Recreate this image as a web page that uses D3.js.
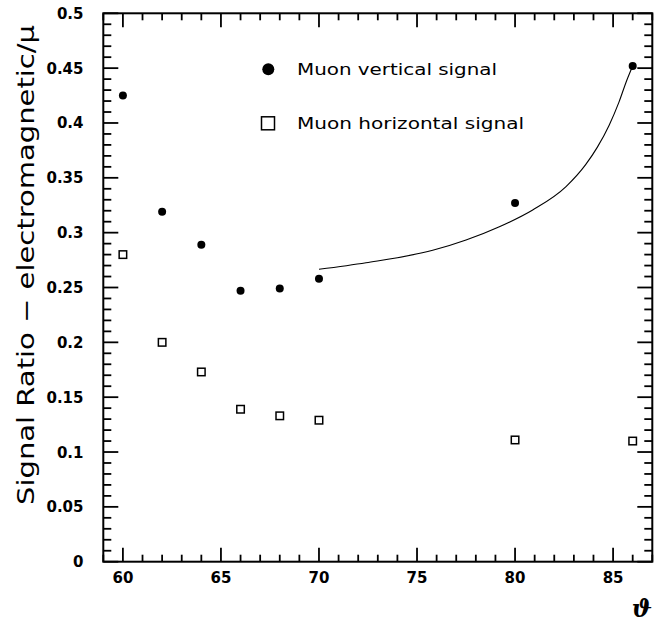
<!DOCTYPE html>
<html>
<head>
<meta charset="utf-8">
<script src="https://cdn.jsdelivr.net/npm/d3@7"></script>
<style>
html,body{margin:0;padding:0;background:#fff;}
svg{display:block;}
</style>
</head>
<body>
<svg id="chart" width="667" height="624"></svg>
<script>
// Data
const angles = [60, 62, 64, 66, 68, 70, 80, 86];
const verticalSignal = [0.425, 0.319, 0.289, 0.247, 0.249, 0.258, 0.327, 0.452];
const horizontalSignal = [0.280, 0.200, 0.173, 0.139, 0.133, 0.129, 0.111, 0.110];
const fitX = [70.0, 72.4, 75.8, 77.5, 79.2, 80.9, 82.6, 83.6, 84.2, 84.8, 85.3, 85.7, 86.0];
const fitY = [0.2666, 0.2726, 0.2839, 0.2933, 0.3054, 0.3207, 0.3420, 0.3620, 0.3780, 0.3980, 0.4190, 0.4390, 0.4520];
const xTickLabels = [60, 65, 70, 75, 80, 85];
const yTickLabels = [0, 0.05, 0.1, 0.15, 0.2, 0.25, 0.3, 0.35, 0.4, 0.45, 0.5];
const legendLabels = ["Muon vertical signal", "Muon horizontal signal"];

const svg = d3.select("#chart");
const L = 103.3, R = 652.3, T = 13.3, B = 561.7;
const x = d3.scaleLinear().domain([59, 87]).range([L, R]);
const y = d3.scaleLinear().domain([0, 0.5]).range([B, T]);

const tickFont = "'DejaVu Sans', sans-serif";

// Frame
svg.append("rect").attr("x", L).attr("y", T).attr("width", R - L).attr("height", B - T)
  .attr("fill", "none").attr("stroke", "#000").attr("stroke-width", 2);

// Ticks
const g = svg.append("g").attr("stroke", "#000").attr("stroke-width", 1.8);
d3.range(59, 87.001, 1).forEach(v => {
  const major = Math.abs(v % 5) < 1e-9;
  const len = major ? 14 : 7;
  g.append("line").attr("x1", x(v)).attr("x2", x(v)).attr("y1", B).attr("y2", B - len);
  g.append("line").attr("x1", x(v)).attr("x2", x(v)).attr("y1", T).attr("y2", T + len);
});
d3.range(0, 51, 1).forEach(i => {
  const v = i / 100;
  const major = i % 5 === 0;
  const len = major ? 15 : 8;
  g.append("line").attr("x1", L).attr("x2", L + len).attr("y1", y(v)).attr("y2", y(v));
  g.append("line").attr("x1", R).attr("x2", R - len).attr("y1", y(v)).attr("y2", y(v));
});

// Tick labels
svg.append("g").selectAll("text").data(xTickLabels).join("text")
  .attr("x", d => x(d)).attr("y", 583).attr("text-anchor", "middle")
  .attr("font-family", tickFont).attr("font-weight", "bold").attr("font-size", 15)
  .text(d => d);
svg.append("g").selectAll("text").data(yTickLabels).join("text")
  .attr("x", 83.5).attr("y", d => y(d) + 5.5).attr("text-anchor", "end")
  .attr("font-family", tickFont).attr("font-weight", "bold").attr("font-size", 15)
  .text(d => String(d));

// Axis titles
svg.append("text")
  .attr("transform", "translate(34,265) rotate(-90)")
  .attr("text-anchor", "middle")
  .attr("font-family", tickFont).attr("font-size", 23)
  .attr("textLength", 480).attr("lengthAdjust", "spacingAndGlyphs")
  .text("Signal Ratio \u2212 electromagnetic/\u03bc");
svg.append("text")
  .attr("x", 652).attr("y", 617).attr("text-anchor", "end")
  .attr("font-family", "'DejaVu Serif', serif").attr("font-style", "italic").attr("font-weight", "bold")
  .attr("font-size", 24)
  .text("\u03d1");

// Fit curve
const fitPts = fitX.map((v, i) => [v, fitY[i]]);
svg.append("path").datum(fitPts)
  .attr("d", d3.line().x(d => x(d[0])).y(d => y(d[1])).curve(d3.curveMonotoneX))
  .attr("fill", "none").attr("stroke", "#000").attr("stroke-width", 1.1);

// Markers
svg.append("g").selectAll("circle").data(angles).join("circle")
  .attr("cx", d => x(d)).attr("cy", (d, i) => y(verticalSignal[i])).attr("r", 4)
  .attr("fill", "#000");
const s = 7.5;
svg.append("g").selectAll("rect").data(angles).join("rect")
  .attr("x", d => x(d) - s / 2).attr("y", (d, i) => y(horizontalSignal[i]) - s / 2)
  .attr("width", s).attr("height", s)
  .attr("fill", "#fff").attr("stroke", "#000").attr("stroke-width", 1.5);

// Legend
svg.append("circle").attr("cx", 268.3).attr("cy", 69.3).attr("r", 6).attr("fill", "#000");
svg.append("rect").attr("x", 268 - 6.5).attr("y", 123.3 - 6.5).attr("width", 13).attr("height", 13)
  .attr("fill", "#fff").attr("stroke", "#000").attr("stroke-width", 1.5);
svg.append("g").selectAll("text").data(legendLabels).join("text")
  .attr("x", 297).attr("y", (d, i) => i === 0 ? 75 : 128.5)
  .attr("font-family", tickFont).attr("font-size", 16).attr("font-weight", 500)
  .attr("textLength", (d, i) => i === 0 ? 200 : 227).attr("lengthAdjust", "spacingAndGlyphs")
  .text(d => d);
</script>
</body>
</html>
